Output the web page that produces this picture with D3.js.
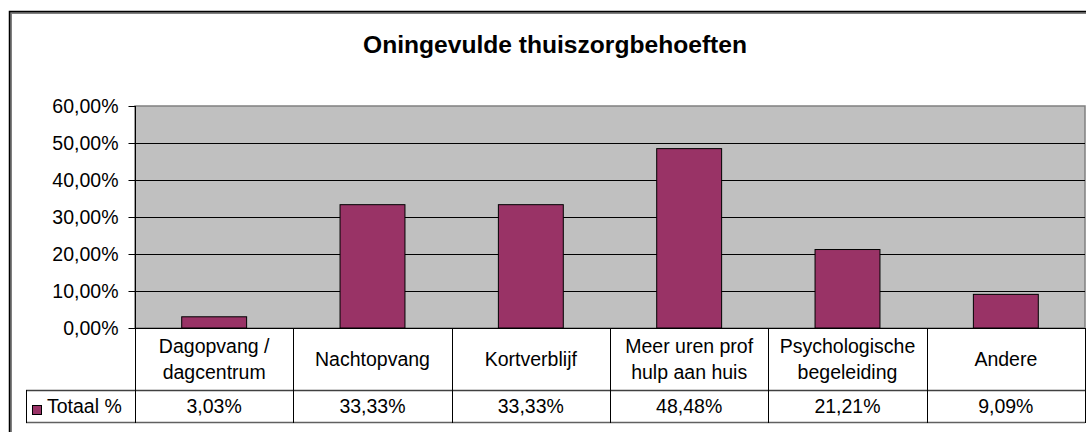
<!DOCTYPE html>
<html>
<head>
<meta charset="utf-8">
<script src="https://cdn.jsdelivr.net/npm/d3@7"></script>
<style>
  html, body { margin: 0; padding: 0; background: #fff; }
  svg { display: block; font-family: "Liberation Sans", Arial, sans-serif; }
</style>
</head>
<body>
<svg id="chart" width="1086" height="432"></svg>
<script>
// Categories (line breaks as shown in the data table)
const categories = [
  "Dagopvang /\ndagcentrum",
  "Nachtopvang",
  "Kortverblijf",
  "Meer uren prof\nhulp aan huis",
  "Psychologische\nbegeleiding",
  "Andere"
];
// Totaal % per category
const totaal = [3.03, 33.33, 33.33, 48.48, 21.21, 9.09];
const tableLabels = ["3,03%", "33,33%", "33,33%", "48,48%", "21,21%", "9,09%"];
const yTicks = [0, 10, 20, 30, 40, 50, 60];
const seriesName = "Totaal %";
const title = "Oningevulde thuiszorgbehoeften";

const svg = d3.select("#chart");
const plot = { left: 135, right: 1085, top: 106, bottom: 328 };
const row1Bottom = 390, tableBottom = 422, legendLeft = 26;
const barColor = "#993366";
const fmt = v => d3.format(".2f")(v).replace(".", ",") + "%";

// Outer chart frame
svg.append("path")
  .attr("d", "M10.5,432 V12.5 H1090")
  .attr("fill", "none").attr("stroke", "#808080").attr("stroke-width", 3);
svg.append("path")
  .attr("d", "M9.5,432 V11.5 H1090")
  .attr("fill", "none").attr("stroke", "#000").attr("stroke-width", 1.5);

// Title
svg.append("text")
  .attr("x", 555).attr("y", 53)
  .attr("text-anchor", "middle")
  .attr("font-size", "24.6px").attr("font-weight", "bold")
  .attr("fill", "#000")
  .text(title);

const x = d3.scaleBand()
  .domain(d3.range(categories.length))
  .range([plot.left, plot.right])
  .paddingInner(0).paddingOuter(0);

const y = d3.scaleLinear().domain([0, 60]).range([plot.bottom, plot.top]);

// Plot background
svg.append("rect")
  .attr("x", plot.left).attr("y", plot.top)
  .attr("width", plot.right - plot.left).attr("height", plot.bottom - plot.top)
  .attr("fill", "#C0C0C0")
  .attr("stroke", "#808080").attr("stroke-width", 1.5);

// Gridlines
svg.append("g").selectAll("line")
  .data(yTicks.filter(t => t > 0 && t < 60))
  .join("line")
  .attr("x1", plot.left).attr("x2", plot.right)
  .attr("y1", d => Math.round(y(d)) + 0.5).attr("y2", d => Math.round(y(d)) + 0.5)
  .attr("stroke", "#000").attr("stroke-width", 1);

// Bars
const barW = x.bandwidth() * 0.41;
svg.append("g").selectAll("rect")
  .data(totaal)
  .join("rect")
  .attr("x", (d, i) => x(i) + (x.bandwidth() - barW) / 2)
  .attr("y", d => y(d))
  .attr("width", barW)
  .attr("height", d => y(0) - y(d))
  .attr("fill", barColor)
  .attr("stroke", "#000").attr("stroke-width", 1);

// Y axis
const yAxis = d3.axisLeft(y).tickValues(yTicks).tickSize(7).tickPadding(10).tickFormat(fmt);
const gy = svg.append("g")
  .attr("transform", `translate(${plot.left + 0.5},0)`)
  .call(yAxis);
gy.select(".domain").attr("stroke", "#000").attr("d", `M0,${plot.top}V${plot.bottom}`);
gy.selectAll(".tick line").attr("stroke", "#000");
gy.selectAll(".tick text")
  .attr("font-size", "19.5px")
  .attr("font-family", "Liberation Sans, Arial, sans-serif")
  .attr("fill", "#000");

// Data table
const table = svg.append("g");
// horizontal rules
table.append("line")
  .attr("x1", plot.left).attr("x2", plot.right)
  .attr("y1", plot.bottom + 0.5).attr("y2", plot.bottom + 0.5)
  .attr("stroke", "#000");
table.append("line")
  .attr("x1", legendLeft).attr("x2", plot.right)
  .attr("y1", row1Bottom + 0.5).attr("y2", row1Bottom + 0.5)
  .attr("stroke", "#404040").attr("stroke-width", 1.5);
table.append("line")
  .attr("x1", legendLeft).attr("x2", plot.right)
  .attr("y1", tableBottom + 0.5).attr("y2", tableBottom + 0.5)
  .attr("stroke", "#606060").attr("stroke-width", 1.5);
// vertical rules
const colEdges = d3.range(categories.length + 1).map(i => i < categories.length ? x(i) : plot.right);
table.selectAll("line.v")
  .data(colEdges)
  .join("line")
  .attr("class", "v")
  .attr("x1", d => Math.round(d) + 0.5).attr("x2", d => Math.round(d) + 0.5)
  .attr("y1", plot.bottom).attr("y2", tableBottom + 1)
  .attr("stroke", "#000");
table.append("line")
  .attr("x1", legendLeft + 0.5).attr("x2", legendLeft + 0.5)
  .attr("y1", row1Bottom).attr("y2", tableBottom + 1)
  .attr("stroke", "#000");

// category labels
const rowMid = (plot.bottom + row1Bottom) / 2;
const lineH = 25.3;
table.selectAll("text.cat")
  .data(categories)
  .join("text")
  .attr("class", "cat")
  .attr("text-anchor", "middle")
  .attr("font-size", "19.5px")
  .attr("fill", "#000")
  .each(function (d, i) {
    const lines = d.split("\n");
    const cx = x(i) + x.bandwidth() / 2;
    const first = rowMid - (lines.length - 1) * lineH / 2 + 7;
    d3.select(this).selectAll("tspan")
      .data(lines)
      .join("tspan")
      .attr("x", cx)
      .attr("y", (l, j) => first + j * lineH)
      .text(l => l);
  });

// value row
table.selectAll("text.val")
  .data(tableLabels)
  .join("text")
  .attr("class", "val")
  .attr("x", (d, i) => x(i) + x.bandwidth() / 2)
  .attr("y", 413)
  .attr("text-anchor", "middle")
  .attr("font-size", "19.5px")
  .attr("fill", "#000")
  .text(d => d);

// legend key
table.append("rect")
  .attr("x", 32.5).attr("y", 405.5).attr("width", 9).attr("height", 9)
  .attr("fill", barColor).attr("stroke", "#000");
table.append("text")
  .attr("x", 47).attr("y", 413)
  .attr("font-size", "19.5px")
  .attr("fill", "#000")
  .text(seriesName);
</script>
</body>
</html>
